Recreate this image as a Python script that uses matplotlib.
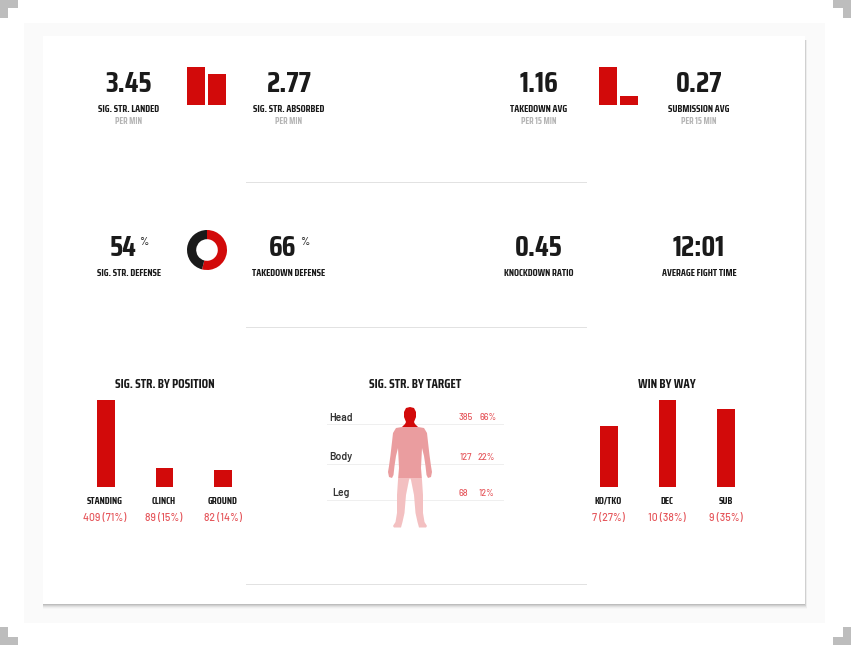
import matplotlib
matplotlib.use("Agg")
import matplotlib.pyplot as plt
from matplotlib.patches import Rectangle, PathPatch
from matplotlib.path import Path
import logging

logging.getLogger("matplotlib.font_manager").setLevel(logging.ERROR)

W, H = 851, 645
RED = "#D20A0A"
DARK = "#1A1A1A"
SOFT_RED = "#E5555A"
NARROW = ["Saira Condensed", "Barlow Condensed", "Roboto Condensed", "Roboto", "DejaVu Sans"]
PLAIN = ["Barlow", "Roboto", "DejaVu Sans"]

# top stats
top_values = ["3.45", "2.77", "1.16", "0.27"]
top_labels = ["SIG. STR. LANDED", "SIG. STR. ABSORBED", "TAKEDOWN AVG", "SUBMISSION AVG"]
top_units = ["PER MIN", "PER MIN", "PER 15 MIN", "PER 15 MIN"]
strikes_rate = [3.45, 2.77]
takedown_rate = [1.16, 0.27]

# middle stats
mid_values = ["54", "66", "0.45", "12:01"]
mid_labels = ["SIG. STR. DEFENSE", "TAKEDOWN DEFENSE", "KNOCKDOWN RATIO", "AVERAGE FIGHT TIME"]
defense_split = [54, 46]

# bottom panels
position_names = ["STANDING", "CLINCH", "GROUND"]
position_counts = [409, 89, 82]
position_text = ["409 (71%)", "89 (15%)", "82 (14%)"]
way_names = ["KO/TKO", "DEC", "SUB"]
way_counts = [7, 10, 9]
way_text = ["7 (27%)", "10 (38%)", "9 (35%)"]
target_names = ["Head", "Body", "Leg"]
target_counts = ["385", "127", "68"]
target_pcts = ["66%", "22%", "12%"]

col_x = [129, 289, 539, 699]

fig = plt.figure(figsize=(W / 100, H / 100), dpi=100, facecolor="white")


def px_axes(x0, y0, x1, y1, **kw):
    # axes placed with picture pixels, y going down
    ax = fig.add_axes([x0 / W, 1 - y1 / H, (x1 - x0) / W, (y1 - y0) / H], **kw)
    ax.patch.set_alpha(0)
    ax.axis("off")
    return ax


bg = px_axes(0, 0, W, H)
bg.set_xlim(0, W)
bg.set_ylim(H, 0)

# page panel, shadow, card
bg.add_patch(Rectangle((24, 23), 801, 600, color="#FAFAFA", lw=0))
for grow, alpha in zip([5, 4, 3, 2, 1], [0.02, 0.03, 0.05, 0.07, 0.09]):
    bg.add_patch(Rectangle((43, 40), 762 + grow * 0.4, 564 + grow, color="black", alpha=alpha, lw=0))
bg.add_patch(Rectangle((43, 36), 762, 568, color="white", lw=0))

# grey corner marks
for x, y, w, h in [(0, 0, 18, 8), (0, 0, 8, 18), (833, 0, 18, 8), (843, 0, 8, 18),
                   (0, 637, 18, 8), (0, 627, 8, 18), (833, 637, 18, 8), (843, 627, 8, 18)]:
    bg.add_patch(Rectangle((x, y), w, h, color="#BDBDBD", lw=0))

for y in [181.5, 326.5, 583.5]:
    bg.plot([246, 586], [y, y], color="#E2E2E2", lw=0.72)


def txt(x, y, s, size, color=DARK, family=NARROW, weight="bold"):
    bg.text(x, y, s, fontsize=size, color=color, family=family, weight=weight, ha="center", va="center")


for x, v, lab, unit in zip(col_x, top_values, top_labels, top_units):
    txt(x, 84, v, 21)
    txt(x, 109, lab, 7.2)
    txt(x, 121, unit, 6.4, color="#B5B5B5")

for x, v, lab in zip(col_x, mid_values, mid_labels):
    txt(x - 6 if v.isdigit() else x, 248, v, 21)
    txt(x, 273, lab, 7.2)
txt(143.5, 242, "%", 8, color="#333333", family=PLAIN, weight="medium")
txt(304.5, 242, "%", 8, color="#333333", family=PLAIN, weight="medium")


def small_bars(box, vals):
    ax = px_axes(*box)
    ax.bar([0, 1], vals, width=18 / 21, color=RED)
    ax.set_xlim(-9 / 21, 1 + 9 / 21)
    ax.set_ylim(0, max(vals))


small_bars((187, 67, 226, 105), strikes_rate)
small_bars((599, 67, 638, 105), takedown_rate)

donut = px_axes(187, 230, 227, 270)
donut.pie(defense_split, colors=[RED, DARK], startangle=90, counterclock=False,
          radius=1.0, wedgeprops={"width": 0.46, "lw": 0})
donut.set_xlim(-1, 1)
donut.set_ylim(-1, 1)


def column_panel(box, counts, names, texts, centers):
    ax = px_axes(*box)
    ax.bar(range(3), counts, width=18 / 59, color=RED)
    ax.set_xlim(-9 / 59, 2 + 9 / 59)
    ax.set_ylim(0, max(counts))
    for x, n, t in zip(centers, names, texts):
        txt(x, 501, n, 7.2)
        txt(x, 518, t, 7.5, color=SOFT_RED, family=PLAIN, weight="medium")


column_panel((97, 400, 232, 487), position_counts, position_names, position_text, [105, 164, 223])
column_panel((600, 400, 735, 487), way_counts, way_names, way_text, [608, 667, 726])

txt(164.5, 384, "SIG. STR. BY POSITION", 9.2)
txt(415.5, 384, "SIG. STR. BY TARGET", 9.2)
txt(667, 384, "WIN BY WAY", 9.2)

# target table
for y, name, c, p, cx, px in zip([418, 457, 493], target_names, target_counts, target_pcts,
                                 [465.5, 465.5, 463], [488, 486, 486]):
    txt(341, y, name, 7.5, color="#333333", family=PLAIN, weight="semibold")
    txt(cx, y, c, 6.5, color=SOFT_RED, family=PLAIN, weight="medium")
    txt(px, y, p, 6.5, color=SOFT_RED, family=PLAIN, weight="medium")
for y in [424, 463.5, 499.5]:
    bg.plot([327, 503], [y, y], color="#EFEFEF", lw=0.72)

# body figure: right half outline, mirrored around x=410
half = [(0, 407), (4, 408), (6, 412), (6, 417), (4, 422), (5, 424), (8, 427), (14, 428),
        (17, 433), (18, 442), (19.5, 455), (21, 466), (22, 472), (21, 477), (18, 478),
        (16.5, 475), (15.5, 466), (14, 456), (12, 448), (11.5, 458), (11, 468), (12, 480),
        (13, 495), (13, 513), (14.5, 522), (17, 526), (16, 527.5), (9, 527.5), (7.5, 522),
        (5.5, 513), (4, 495), (1, 480), (0, 478)]
outline = [(410 + dx, y) for dx, y in half] + [(410 - dx, y) for dx, y in reversed(half[:-1])]
codes = [Path.MOVETO] + [Path.LINETO] * (len(outline) - 2) + [Path.CLOSEPOLY]
body = Path(outline, codes)
for top, bottom, color in [(400, 427, RED), (427, 478, "#EA9D9F"), (478, 530, "#F3C0C1")]:
    zone = Rectangle((385, top), 50, bottom - top, color=color, lw=0, zorder=3)
    bg.add_patch(zone)
    clip = PathPatch(body, transform=bg.transData)
    zone.set_clip_path(clip)

fig.savefig("out.png", dpi=100)
